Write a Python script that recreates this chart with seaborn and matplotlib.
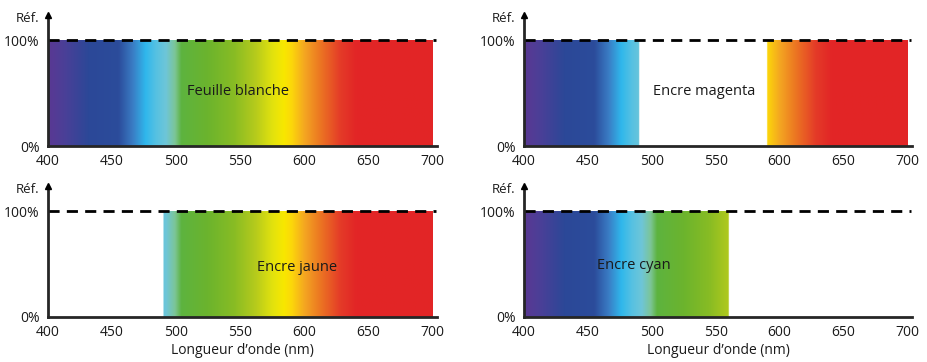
import numpy as np
import matplotlib
matplotlib.use("Agg")
import matplotlib.pyplot as plt
import seaborn as sns
from matplotlib.colors import to_rgb

sns.set_style("white")
plt.rcParams['font.family'] = ['Open Sans', 'DejaVu Sans']

# Spectrum colour stops (wavelength nm, colour)
stop_wl = [400, 412, 432, 455, 466, 476, 484, 492, 499, 504, 525, 545, 562, 575, 584, 590, 600, 612, 628, 640, 700]
stop_col = ["#5a3893", "#4c3f97", "#2b4898", "#2c4c9b", "#3a7cc4", "#2fb7ec", "#55c1e2", "#6ec6d8",
            "#7cc596", "#5db33f", "#6cb42d", "#88bc24", "#b6cb1c", "#e2e20e", "#f8e800", "#fcd70a",
            "#f4a621", "#ec7722", "#e43b28", "#e22626", "#e32526"]

# Reflectance curves (wavelength nodes, reflectance %)
titles = ["Feuille blanche", "Encre magenta", "Encre jaune", "Encre cyan"]
refl_wl = [
    [400, 700],
    [400, 490, 490.01, 590, 590.01, 700],
    [400, 490, 490.01, 700],
    [400, 560, 560.01, 700],
]
refl_val = [
    [100, 100],
    [100, 100, 0, 0, 100, 100],
    [0, 0, 100, 100],
    [100, 100, 0, 0],
]
label_x = [548, 541, 594, 486]
label_y = [51, 51, 47, 49]
xticks = [400, 450, 500, 550, 600, 650, 700]
yticks = [0, 100]
ytick_labels = ["0%", "100%"]

W, H = 927, 362
fig = plt.figure(figsize=(W / 100, H / 100), dpi=100)

def px_axes(left, right, bottom, top):
    return fig.add_axes([left / W, 1 - bottom / H, (right - left) / W, (bottom - top) / H])

axes = [
    px_axes(48, 437, 146, 15),
    px_axes(524, 912, 146, 15),
    px_axes(48, 437, 317, 186),
    px_axes(524, 912, 317, 186),
]

wl = np.linspace(400, 700, 1200)
rgb_stops = np.array([to_rgb(c) for c in stop_col])
rgb = np.stack([np.interp(wl, stop_wl, rgb_stops[:, k]) for k in range(3)], axis=-1)

for i, ax in enumerate(axes):
    alpha = np.interp(wl, refl_wl[i], refl_val[i]) / 100.0
    alpha = (alpha > 0.5).astype(float)
    img = np.concatenate([rgb, alpha[:, None]], axis=-1)[None, :, :]
    ax.imshow(img, extent=[400, 700, 0, 100], aspect='auto', interpolation='bilinear', zorder=1)
    sns.lineplot(x=[400, 703], y=[100, 100], ax=ax, color='black', lw=2.0,
                 linestyle=(0, (4, 2.6)), zorder=3)
    ax.set_xlim(400, 703.5)
    ax.set_ylim(0, 123.6)
    for s in ['top', 'right']:
        ax.spines[s].set_visible(False)
    ax.spines['left'].set_linewidth(2)
    ax.spines['bottom'].set_linewidth(2)
    ax.spines['left'].set_zorder(4)
    ax.spines['bottom'].set_zorder(4)
    ax.plot(0, 1, marker='^', color='black', markersize=5, transform=ax.transAxes, clip_on=False, zorder=5)
    ax.set_xticks(xticks)
    ax.set_yticks(yticks)
    ax.set_yticklabels(ytick_labels)
    ax.tick_params(axis='x', direction='out', length=4, width=1.5, labelsize=10, pad=2, colors='black')
    ax.tick_params(axis='y', length=0, labelsize=10, pad=6, colors='black')
    for t in ax.get_xticklabels() + ax.get_yticklabels():
        t.set_color('#1a1a1a')
    ax.annotate("Réf.", xy=(0, 120.5), xycoords=('axes fraction', 'data'),
                xytext=(-6, 0), textcoords='offset points',
                ha='right', va='center', fontsize=9.5, color='#1a1a1a', annotation_clip=False)
    ax.text(label_x[i], label_y[i], titles[i], ha='center', va='center', fontsize=10.5, color='#1a1a1a', zorder=6)
    ax.grid(False)
    ax.set_facecolor('white')
    if i >= 2:
        ax.set_xlabel("Longueur d’onde (nm)", fontsize=10, labelpad=2, color='#1a1a1a')

fig.savefig("out.png", dpi=100)
